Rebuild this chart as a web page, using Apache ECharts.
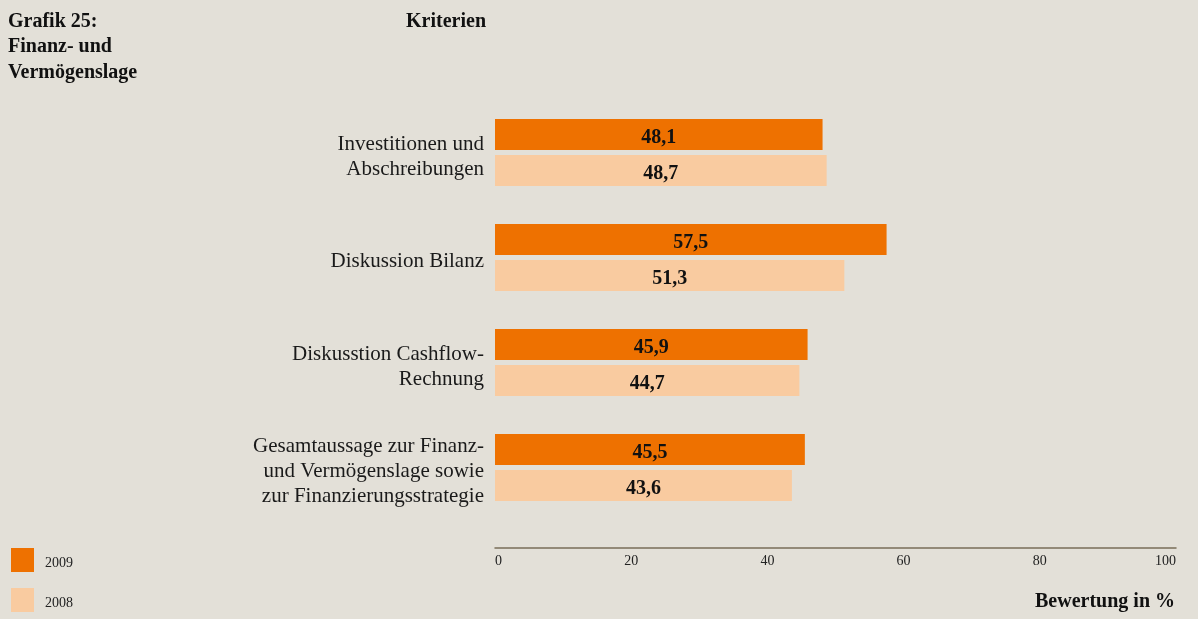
<!DOCTYPE html>
<html lang="de">
<head>
<meta charset="UTF-8">
<title>Grafik 25</title>
<script src="https://cdn.jsdelivr.net/npm/echarts@6/dist/echarts.min.js"></script>
<style>
  html, body { margin: 0; padding: 0; background: #e3e0d8; }
</style>
</head>
<body>
<div id="main" style="width:1198px;height:619px"></div>
<script>
    // Kriterien (top to bottom)
    let categories = [
        'Investitionen und\nAbschreibungen',
        'Diskussion Bilanz',
        'Diskusstion Cashflow-\nRechnung',
        'Gesamtaussage zur Finanz-\nund Vermögenslage sowie\nzur Finanzierungsstrategie'
    ]
    let values2009 = [48.1, 57.5, 45.9, 45.5]
    let values2008 = [48.7, 51.3, 44.7, 43.6]
    let xTicks = [0, 20, 40, 60, 80, 100]

    let serif = '"Liberation Serif", "DejaVu Serif", serif'

    function fmt(v) {
        return v.toFixed(1).replace('.', ',')
    }

    let mycharts = echarts.init(document.getElementById('main'))
    mycharts.setOption({
        backgroundColor: '#e3e0d8',
        animation: false,
        textStyle: { fontFamily: serif },
        title: [{
            text: 'Grafik 25:\nFinanz- und\nVermögenslage',
            left: 8, top: 9, padding: 0,
            textStyle: { fontFamily: serif, fontSize: 20, fontWeight: 'bold', color: '#111', lineHeight: 25.5 }
        }, {
            text: 'Kriterien',
            right: 712, top: 9, padding: 0,
            textStyle: { fontFamily: serif, fontSize: 20, fontWeight: 'bold', color: '#111', lineHeight: 25.5 }
        }, {
            text: 'Bewertung in %',
            right: 23, top: 592, padding: 0,
            textStyle: { fontFamily: serif, fontSize: 20, fontWeight: 'bold', color: '#111' }
        }],
        legend: {
            orient: 'vertical',
            left: 11, top: 548,
            itemWidth: 23, itemHeight: 24,
            itemGap: 16,
            padding: 0,
            icon: 'rect',
            data: ['2009', '2008'],
            formatter: '{t|{name}}',
            textStyle: {
                fontFamily: serif, fontSize: 14, color: '#222', padding: [0, 0, 0, 6],
                rich: { t: { fontFamily: serif, fontSize: 14, color: '#222', padding: [6, 0, 0, 0] } }
            }
        },
        grid: { left: 495, right: 22, top: 100, bottom: 99 },
        xAxis: {
            type: 'value',
            min: xTicks[0], max: xTicks[xTicks.length - 1], interval: 20,
            offset: 28,
            axisLine: { show: true, lineStyle: { color: '#7a6e58', width: 1.5 } },
            axisTick: { show: false },
            splitLine: { show: false },
            axisLabel: {
                color: '#222', fontSize: 14, fontFamily: serif, margin: 6,
                alignMinLabel: 'left', alignMaxLabel: 'right'
            }
        },
        yAxis: {
            type: 'category',
            inverse: true,
            data: categories,
            axisLine: { show: false },
            axisTick: { show: false },
            axisLabel: {
                margin: 11, color: '#1a1a1a', fontFamily: serif, align: 'right',
                formatter: function (v) {
                    return v.split('\n').map(function (l) { return '{n|' + l + '}' }).join('\n')
                },
                rich: {
                    n: { fontFamily: serif, fontSize: 21, lineHeight: 25, color: '#1a1a1a', padding: [8, 0, 0, 0] }
                }
            }
        },
        series: [{
            name: '2009',
            type: 'bar',
            data: values2009,
            barWidth: 31,
            barGap: '16%',
            itemStyle: { color: '#ee7100' },
            label: {
                show: true, position: 'inside', color: '#111', fontSize: 20, fontWeight: 'bold',
                fontFamily: serif, offset: [0, 3],
                formatter: function (p) { return fmt(p.value) }
            }
        }, {
            name: '2008',
            type: 'bar',
            data: values2008,
            barWidth: 31,
            barGap: '16%',
            itemStyle: { color: '#f9cba0' },
            label: {
                show: true, position: 'inside', color: '#111', fontSize: 20, fontWeight: 'bold',
                fontFamily: serif, offset: [0, 3],
                formatter: function (p) { return fmt(p.value) }
            }
        }]
    })
</script>
</body>
</html>
